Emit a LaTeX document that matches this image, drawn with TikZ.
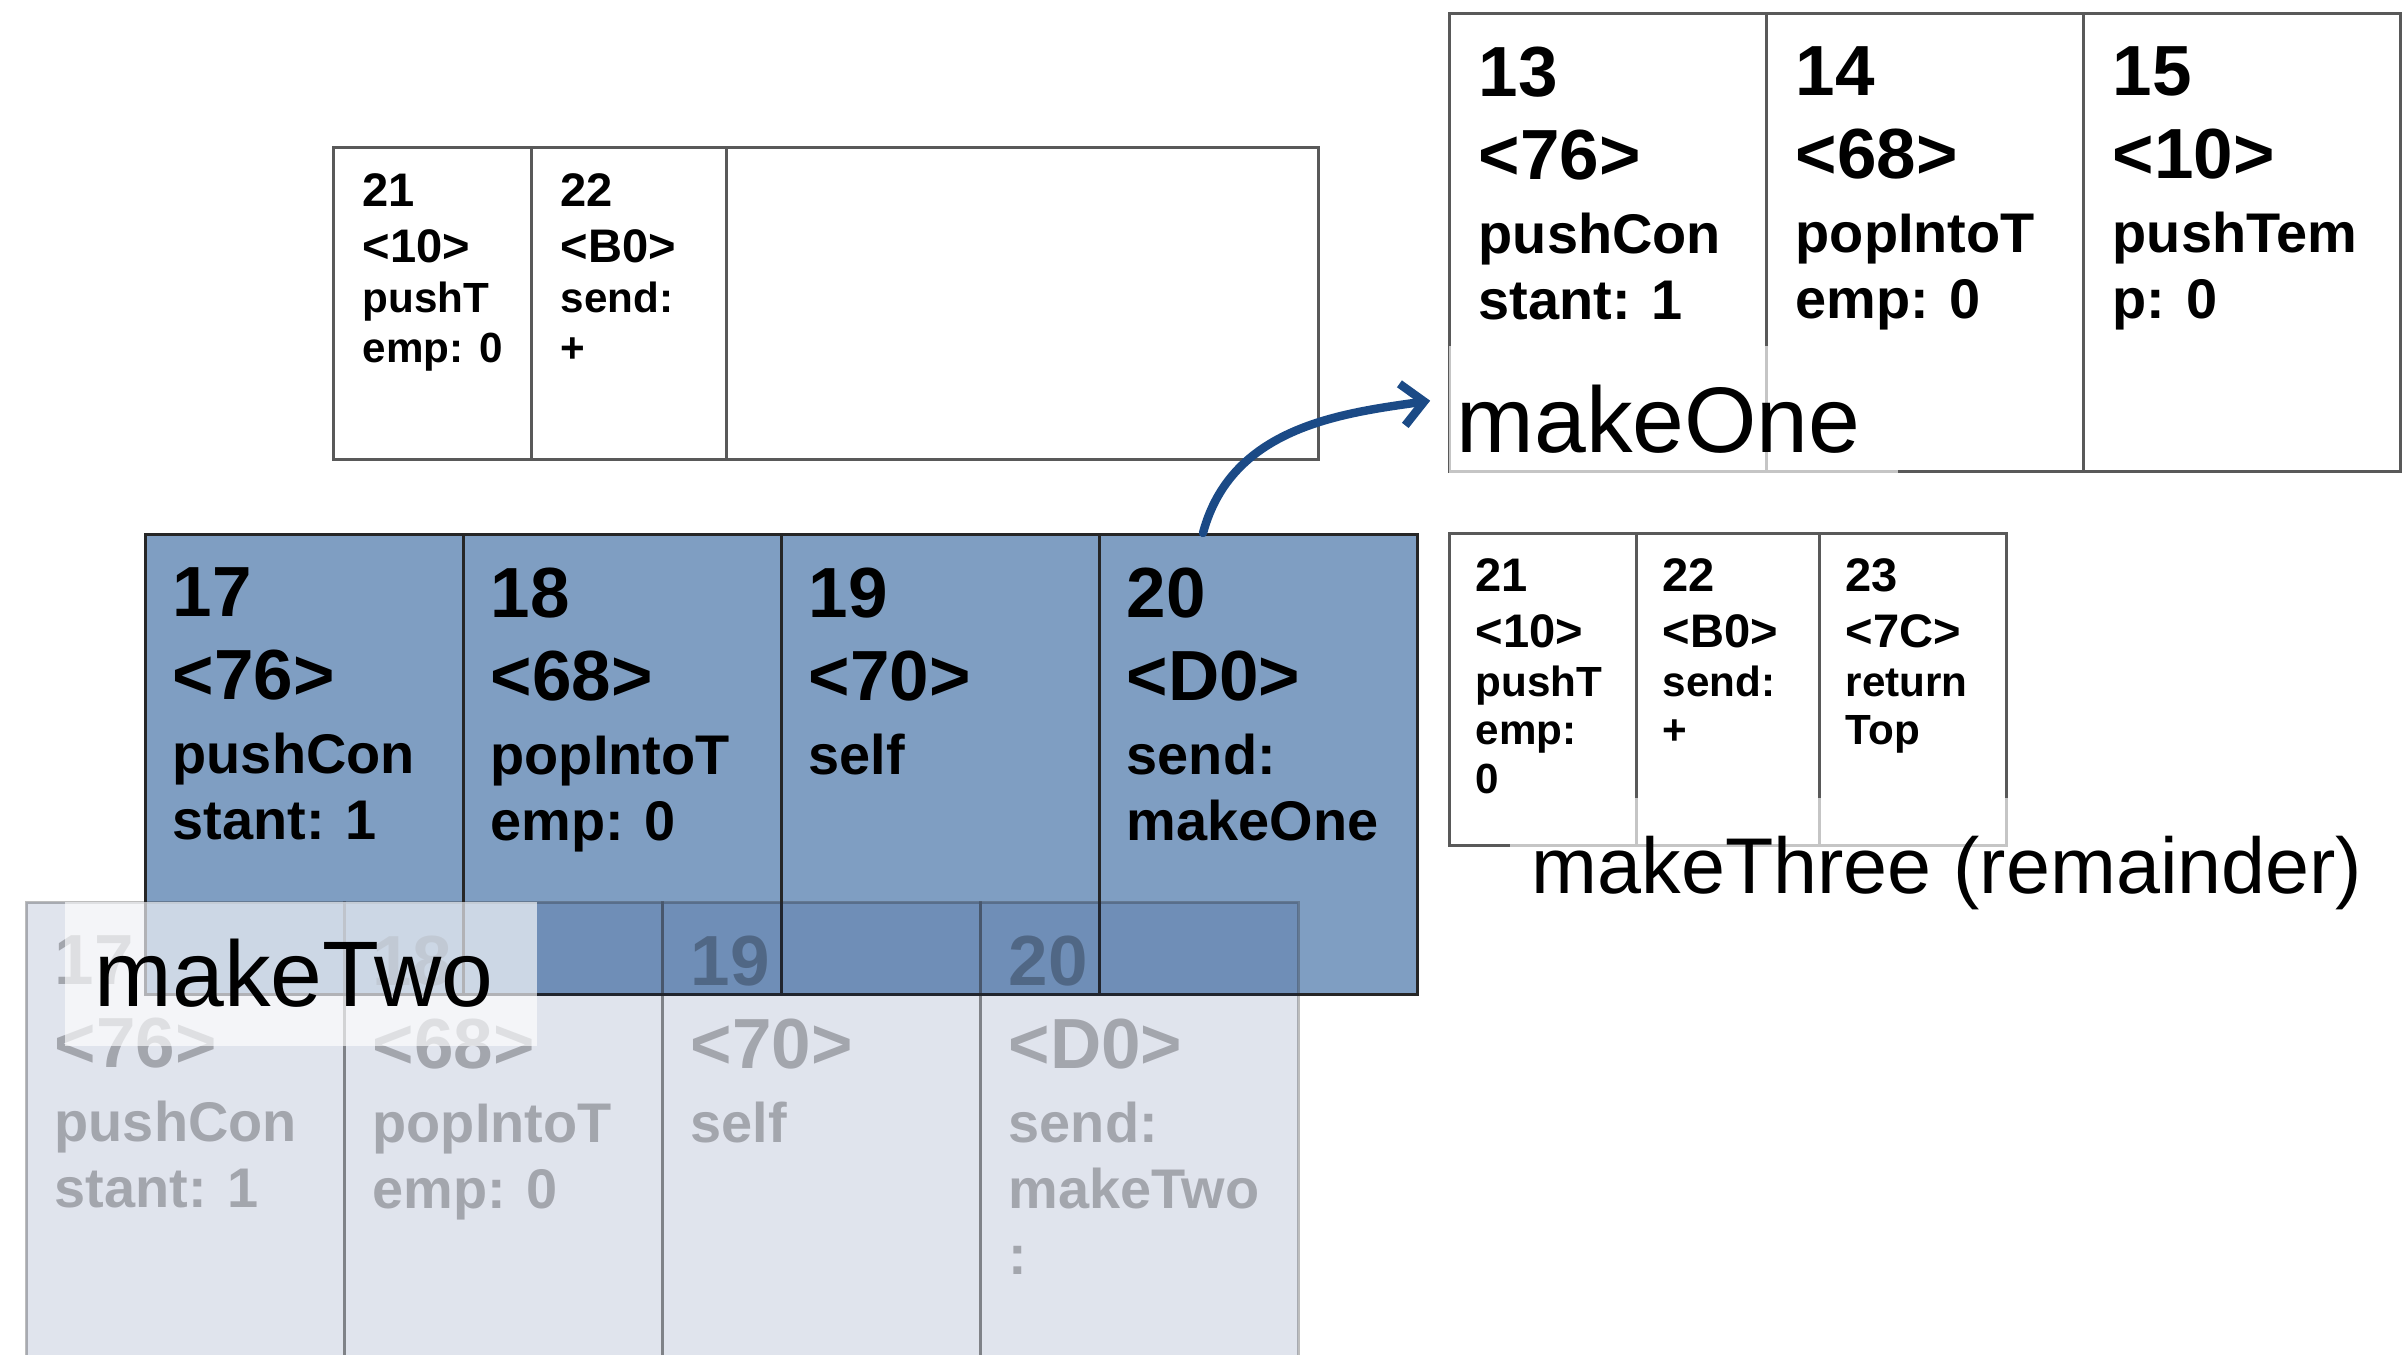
\documentclass[tikz,border=0pt]{standalone}
\usepackage{fontspec}
\setmainfont{Liberation Sans}
\usetikzlibrary{arrows.meta}

\definecolor{boxblue}{RGB}{127,158,194}
\definecolor{ghostblue}{RGB}{0,30,110}
\definecolor{linkblue}{RGB}{27,74,134}

\newcommand\opline[1]{{\fontsize{15.9}{18.8}\selectfont #1}}
\newcommand\opsmall[1]{{\fontsize{12}{14}\selectfont #1}}

\tikzset{
  cell/.style={draw=black!65, line width=0.8pt, anchor=north west, inner sep=0pt, minimum height=4.58cm},
  bluecell/.style={cell, draw=black!85, fill=boxblue, minimum width=3.18cm, minimum height=4.6cm},
  ghostcell/.style={bluecell, fill=ghostblue, fill opacity=0.12, draw opacity=0.3},
  bigtxt/.style={anchor=north west, inner sep=0pt, align=left, font=\bfseries\fontsize{20.2}{23.6}\selectfont},
  ghosttxt/.style={bigtxt, text opacity=0.27},
  smalltxt/.style={anchor=north west, inner sep=0pt, align=left, font=\bfseries\fontsize{13.4}{16}\selectfont},
  lbl/.style={anchor=north west, fill=white, fill opacity=0.65, text opacity=1, inner xsep=0.08cm, inner ysep=0pt, font=\fontsize{26.5}{30}\selectfont},
  link/.style={draw=linkblue, line width=2.4pt, line cap=round, -{Straight Barb[length=0.22cm, width=0.42cm]}}
}

\begin{document}
\begin{tikzpicture}
  \useasboundingbox (0,0) rectangle (24.02,13.54);
  \clip (0,0) rectangle (24.02,13.54);

  % makeThree, first part
  \node[cell, minimum width=1.98cm, minimum height=3.12cm] (a21) at (3.32,12.08) {};
  \node[cell, minimum width=1.95cm, minimum height=3.12cm] (a22) at (5.30,12.08) {};
  \node[cell, minimum width=5.92cm, minimum height=3.12cm] (arest) at (7.25,12.08) {};
  \node[smalltxt] (ta21) at ([shift={(0.30,-0.27)}]a21.north west) {21\\<10>\\[-1.8pt]\opsmall{pushT}\\[-1.8pt]\opsmall{emp: 0}};
  \node[smalltxt] (ta22) at ([shift={(0.30,-0.27)}]a22.north west) {22\\<B0>\\[-1.8pt]\opsmall{send:}\\[-1.8pt]\opsmall{+}};

  % makeOne
  \node[cell, minimum width=3.17cm] (c13) at (14.48,13.42) {};
  \node[cell, minimum width=3.17cm] (c14) at (17.65,13.42) {};
  \node[cell, minimum width=3.17cm] (c15) at (20.82,13.42) {};
  \node[bigtxt] (t13) at ([shift={(0.30,-0.34)}]c13.north west) {13\\<76>\\[-2.55pt]\opline{pushCon}\\[-4.8pt]\opline{stant: 1}};
  \node[bigtxt] (t14) at ([shift={(0.30,-0.34)}]c14.north west) {14\\<68>\\[-2.55pt]\opline{popIntoT}\\[-4.8pt]\opline{emp: 0}};
  \node[bigtxt] (t15) at ([shift={(0.30,-0.34)}]c15.north west) {15\\<10>\\[-2.55pt]\opline{pushTem}\\[-4.8pt]\opline{p: 0}};
  \node[lbl, text width=4.33cm, text height=1.07cm, text depth=0.2cm] (one) at (14.48,10.09) {makeOne};

  % makeThree, remainder
  \node[cell, minimum width=1.87cm, minimum height=3.12cm] (c21) at (14.48,8.22) {};
  \node[cell, minimum width=1.83cm, minimum height=3.12cm] (c22) at (16.35,8.22) {};
  \node[cell, minimum width=1.87cm, minimum height=3.12cm] (c23) at (18.18,8.22) {};
  \node[smalltxt] (t21) at ([shift={(0.27,-0.26)}]c21.north west) {21\\<10>\\[-2.2pt]\opsmall{pushT}\\[-2.2pt]\opsmall{emp:}\\[-2.2pt]\opsmall{0}};
  \node[smalltxt] (t22) at ([shift={(0.27,-0.26)}]c22.north west) {22\\<B0>\\[-2.2pt]\opsmall{send:}\\[-2.2pt]\opsmall{+}};
  \node[smalltxt] (t23) at ([shift={(0.27,-0.26)}]c23.north west) {23\\<7C>\\[-2.2pt]\opsmall{return}\\[-2.2pt]\opsmall{Top}};

  % makeTwo, running
  \node[bluecell] (c17) at (1.44,8.21) {};
  \node[bluecell] (c18) at (4.62,8.21) {};
  \node[bluecell] (c19) at (7.80,8.21) {};
  \node[bluecell] (c20) at (10.98,8.21) {};
  \node[bigtxt] (t17) at ([shift={(0.28,-0.34)}]c17.north west) {17\\<76>\\[-2.55pt]\opline{pushCon}\\[-4.8pt]\opline{stant: 1}};
  \node[bigtxt] (t18) at ([shift={(0.28,-0.34)}]c18.north west) {18\\<68>\\[-2.55pt]\opline{popIntoT}\\[-4.8pt]\opline{emp: 0}};
  \node[bigtxt] (t19) at ([shift={(0.28,-0.34)}]c19.north west) {19\\<70>\\[-2.55pt]\opline{self}};
  \node[bigtxt] (t20) at ([shift={(0.28,-0.34)}]c20.north west) {20\\<D0>\\[-2.55pt]\opline{send:}\\[-4.8pt]\opline{makeOne}};

  % makeTwo, faded copy
  \node[ghostcell] (g17) at (0.25,4.53) {};
  \node[ghostcell] (g18) at (3.43,4.53) {};
  \node[ghostcell] (g19) at (6.61,4.53) {};
  \node[ghostcell] (g20) at (9.79,4.53) {};
  \node[ghosttxt] (u17) at ([shift={(0.29,-0.34)}]g17.north west) {17\\<76>\\[-2.55pt]\opline{pushCon}\\[-4.8pt]\opline{stant: 1}};
  \node[ghosttxt] (u18) at ([shift={(0.29,-0.34)}]g18.north west) {18\\<68>\\[-2.55pt]\opline{popIntoT}\\[-4.8pt]\opline{emp: 0}};
  \node[ghosttxt] (u19) at ([shift={(0.29,-0.34)}]g19.north west) {19\\<70>\\[-2.55pt]\opline{self}};
  \node[ghosttxt] (u20) at ([shift={(0.29,-0.34)}]g20.north west) {20\\<D0>\\[-2.55pt]\opline{send:}\\[-4.8pt]\opline{makeTwo}\\[-4.8pt]\opline{:}};

  \node[lbl, inner xsep=0.30cm, text width=4.12cm, text height=1.05cm, text depth=0.39cm] (two) at (0.64,4.53) {makeTwo};
  \node[lbl, inner xsep=0.22cm, text height=0.96cm, text depth=0.2cm, font=\fontsize{22.5}{27}\selectfont] (three) at (15.09,5.57) {makeThree (remainder)};

  \coordinate (send) at ([xshift=1.05cm]c20.north west);
  \draw[link, shorten >=0.18cm] (send) to[out=75, in=188] ([yshift=0.11cm]one.west);
\end{tikzpicture}
\end{document}
